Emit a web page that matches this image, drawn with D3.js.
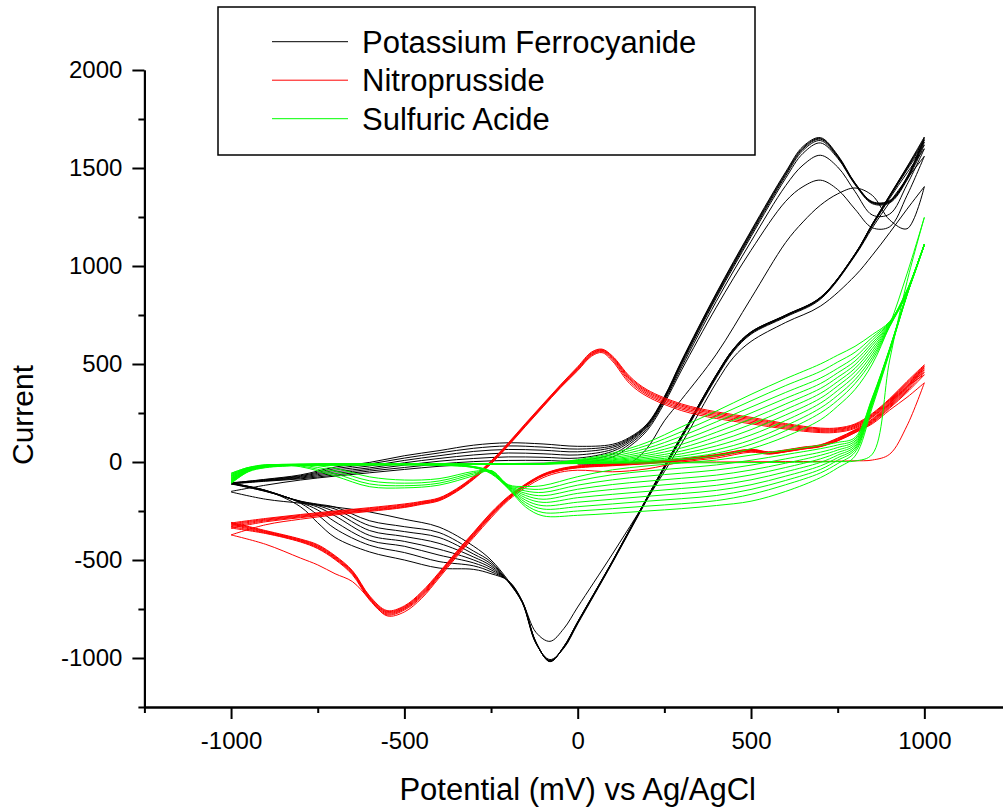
<!DOCTYPE html>
<html>
<head>
<meta charset="utf-8">
<script src="https://cdn.jsdelivr.net/npm/d3@7"></script>
<style>
  body { margin: 0; background: #fff; }
  svg { display: block; }
  text { font-family: "Liberation Sans", Arial, sans-serif; fill: #000; }
</style>
</head>
<body>
<svg width="1003" height="809"></svg>
<script>
// axis ticks
const xMajor = [-1000, -500, 0, 500, 1000];
const xMinor = [-1250, -750, -250, 250, 750, 1250];
const yMajor = [-1000, -500, 0, 500, 1000, 1500, 2000];
const yMinor = [-1250, -750, -250, 250, 750, 1250, 1750];

const seriesNames = ['Potassium Ferrocyanide', 'Nitroprusside', 'Sulfuric Acide'];

// ---- Potassium Ferrocyanide: rows = potential, columns = cycle 1..8 ----
// cycle 1 starts at 0 mV
const blackFwdE = [-1000, -900, -800, -700, -600, -500, -400, -300, -200, -100, 0, 100, 150, 200, 250, 300, 400, 500, 600, 650, 700, 750, 800, 850, 900, 950, 1000];
const blackFwdI = [
  [null, -150, -112, -110, -108, -110, -106, -108],
  [null, -118, -98, -96, -94, -92, -90, -88],
  [null, -92, -86, -82, -78, -74, -70, -66],
  [null, -72, -66, -58, -50, -42, -34, -26],
  [null, -55, -46, -38, -30, -20, -10, -2],
  [null, -38, -28, -16, -4, 8, 20, 32],
  [null, -22, -10, 4, 18, 32, 46, 58],
  [null, -12, 2, 18, 36, 54, 70, 86],
  [null, -8, 8, 26, 46, 64, 82, 98],
  [null, -6, 8, 24, 42, 60, 76, 92],
  [-10, -4, 6, 20, 36, 52, 66, 80],
  [-12, 25, 40, 54, 64, 74, 82, 90],
  [-5, 80, 92, 102, 110, 116, 121, 126],
  [70, 160, 170, 178, 183, 187, 190, 194],
  [210, 300, 310, 318, 323, 327, 330, 334],
  [320, 470, 485, 497, 505, 510, 515, 518],
  [550, 790, 820, 838, 846, 852, 858, 862],
  [835, 1080, 1125, 1150, 1160, 1168, 1174, 1180],
  [1120, 1330, 1410, 1448, 1460, 1468, 1474, 1480],
  [1225, 1405, 1515, 1575, 1590, 1598, 1604, 1610],
  [1310, 1438, 1565, 1628, 1640, 1647, 1651, 1655],
  [1368, 1390, 1505, 1550, 1555, 1559, 1562, 1566],
  [1398, 1290, 1380, 1415, 1418, 1420, 1422, 1424],
  [1360, 1195, 1260, 1318, 1322, 1324, 1326, 1328],
  [1235, 1200, 1265, 1322, 1326, 1329, 1331, 1334],
  [1190, 1360, 1415, 1438, 1444, 1448, 1451, 1454],
  [1405, 1560, 1598, 1618, 1632, 1642, 1650, 1658]
];
const blackRevE = [1000, 950, 900, 850, 800, 700, 600, 500, 450, 400, 300, 200, 100, 0, -40, -80, -120, -160, -200, -250, -300, -400, -500, -600, -700, -750, -800, -900, -1000];
const blackRevI = [
  [1405, 1560, 1598, 1618, 1632, 1642, 1650, 1658],
  [1290, 1445, 1475, 1490, 1496, 1500, 1503, 1506],
  [1170, 1325, 1345, 1352, 1355, 1357, 1359, 1361],
  [1055, 1195, 1205, 1210, 1212, 1213, 1214, 1215],
  [950, 1052, 1056, 1058, 1059, 1060, 1061, 1062],
  [795, 830, 834, 836, 837, 838, 839, 840],
  [712, 740, 744, 746, 747, 748, 749, 750],
  [615, 652, 656, 659, 661, 662, 663, 664],
  [535, 565, 570, 574, 576, 577, 578, 579],
  [405, 430, 436, 440, 442, 444, 445, 446],
  [95, 122, 127, 130, 132, 134, 135, 136],
  [-190, -192, -188, -186, -184, -183, -182, -181],
  [-470, -515, -512, -510, -509, -508, -507, -506],
  [-740, -826, -822, -820, -818, -817, -816, -815],
  [-850, -950, -947, -945, -944, -943, -942, -941],
  [-915, -1008, -1012, -1015, -1016, -1017, -1018, -1019],
  [-870, -928, -926, -924, -923, -922, -921, -920],
  [-712, -718, -716, -714, -713, -712, -711, -710],
  [-605, -612, -611, -610, -609, -608, -607, -606],
  [-500, -510, -520, -530, -540, -550, -560, -570],
  [-430, -455, -470, -485, -500, -515, -530, -548],
  [-332, -360, -385, -415, -445, -475, -508, -541],
  [-292, -330, -355, -380, -405, -430, -462, -500],
  [-255, -300, -325, -350, -375, -400, -425, -459],
  [-230, -230, -240, -255, -275, -305, -340, -385],
  [-220, -215, -218, -222, -230, -245, -270, -310],
  [-210, -200, -200, -202, -204, -206, -210, -228],
  [-190, -150, -150, -148, -146, -146, -145, -145],
  [-153, -112, -110, -108, -110, -106, -108, -110]
];

// ---- Nitroprusside: columns = cycle 1..7 ----
const redFwdE = [-1000, -900, -800, -700, -600, -500, -450, -400, -350, -300, -250, -200, -150, -100, -50, 0, 40, 70, 100, 150, 200, 300, 400, 500, 600, 700, 750, 800, 850, 900, 950, 1000];
const redFwdI = [
  [null, -372, -337, -330, -322, -316, -311],
  [null, -320, -305, -300, -296, -292, -288],
  [null, -292, -284, -280, -276, -272, -268],
  [null, -270, -265, -262, -258, -254, -250],
  [null, -252, -248, -245, -241, -237, -233],
  [null, -232, -229, -226, -222, -218, -214],
  [null, -216, -213, -210, -207, -204, -201],
  [null, -198, -195, -192, -189, -186, -183],
  [null, -152, -149, -146, -143, -140, -137],
  [null, -88, -85, -82, -79, -76, -73],
  [null, -10, -7, -4, -1, 2, 5],
  [null, 83, 86, 89, 92, 95, 98],
  [null, 183, 186, 189, 192, 195, 198],
  [null, 281, 284, 287, 290, 293, 296],
  [null, 378, 381, 384, 387, 390, 393],
  [-10, 466, 470, 474, 478, 482, 486],
  [-8, 540, 545, 549, 553, 557, 561],
  [-6, 558, 563, 567, 570, 573, 576],
  [-5, 515, 522, 528, 533, 537, 541],
  [-3, 400, 410, 418, 425, 431, 437],
  [-2, 335, 343, 350, 357, 363, 369],
  [0, 262, 270, 277, 284, 290, 296],
  [0, 222, 230, 237, 244, 250, 256],
  [1, 195, 202, 209, 216, 222, 228],
  [2, 168, 174, 180, 186, 191, 196],
  [3, 150, 155, 160, 165, 169, 173],
  [4, 152, 157, 162, 166, 170, 174],
  [6, 172, 177, 182, 186, 190, 194],
  [10, 228, 232, 236, 240, 244, 248],
  [40, 300, 305, 310, 315, 319, 323],
  [185, 385, 390, 396, 401, 406, 411],
  [404, 445, 458, 470, 480, 488, 496]
];
const redRevE = [1000, 950, 900, 850, 800, 750, 700, 650, 600, 550, 500, 400, 300, 200, 100, 0, -50, -100, -150, -200, -250, -300, -350, -400, -450, -500, -550, -600, -650, -700, -750, -800, -900, -1000];
const redRevI = [
  [404, 445, 458, 470, 480, 488, 496],
  [330, 355, 362, 368, 374, 379, 384],
  [265, 275, 280, 285, 290, 294, 298],
  [195, 200, 204, 208, 212, 216, 220],
  [150, 150, 153, 156, 159, 162, 165],
  [108, 108, 111, 114, 117, 120, 122],
  [80, 78, 80, 82, 84, 86, 88],
  [66, 66, 68, 70, 72, 74, 76],
  [52, 52, 54, 56, 58, 60, 62],
  [40, 42, 44, 46, 48, 50, 52],
  [50, 55, 57, 59, 61, 63, 65],
  [20, 28, 30, 32, 34, 36, 38],
  [0, 6, 8, 10, 12, 14, 16],
  [-35, -9, -7, -5, -3, -1, 1],
  [-50, -19, -17, -15, -13, -11, -9],
  [-42, -30, -28, -26, -24, -22, -20],
  [-52, -44, -42, -40, -38, -36, -34],
  [-80, -72, -70, -68, -66, -64, -62],
  [-130, -122, -120, -118, -116, -114, -112],
  [-195, -190, -187, -184, -181, -178, -175],
  [-285, -278, -274, -270, -266, -262, -258],
  [-385, -378, -374, -370, -366, -362, -358],
  [-485, -478, -474, -470, -466, -462, -458],
  [-592, -585, -580, -576, -572, -568, -564],
  [-695, -688, -682, -677, -672, -667, -662],
  [-765, -755, -750, -746, -742, -738, -734],
  [-785, -780, -775, -770, -766, -762, -758],
  [-700, -705, -700, -696, -692, -688, -684],
  [-610, -575, -570, -566, -562, -558, -554],
  [-570, -498, -494, -490, -486, -482, -478],
  [-525, -442, -438, -434, -430, -426, -422],
  [-490, -408, -405, -402, -399, -396, -393],
  [-420, -365, -362, -359, -356, -353, -350],
  [-372, -337, -330, -322, -316, -311, -308]
];

// ---- Sulfuric Acide: columns = cycle 1..11 ----
const greenFwdE = [-1000, -950, -900, -800, -700, -600, -500, -400, -300, -250, -200, -150, -100, 0, 100, 200, 300, 400, 500, 600, 700, 750, 800, 850, 900, 950, 1000];
const greenFwdI = [
  [null, -58, -64, -70, -75, -81, -86, -91, -96, -101, -106],
  [null, -28, -31, -33, -36, -38, -41, -43, -45, -47, -50],
  [null, -14, -15, -16, -18, -19, -21, -23, -25, -27, -29],
  [null, -24, -20, -16, -12, -11, -12, -14, -15, -16, -18],
  [null, -72, -60, -46, -32, -9, -10, -11, -12, -13, -14],
  [null, -126, -112, -96, -76, -9, -10, -11, -12, -13, -14],
  [null, -132, -121, -108, -92, -10, -11, -12, -13, -14, -15],
  [null, -118, -108, -97, -85, -12, -13, -14, -15, -16, -17],
  [null, -70, -62, -55, -48, -23, -24, -25, -26, -28, -29],
  [null, -44, -44, -45, -46, -48, -50, -53, -55, -57, -60],
  [null, -116, -118, -121, -123, -125, -127, -130, -132, -134, -137],
  [null, -125, -136, -148, -160, -171, -183, -195, -207, -219, -230],
  [null, -120, -138, -155, -172, -190, -206, -223, -240, -258, -275],
  [-8, -75, -96, -118, -139, -160, -182, -205, -228, -250, -272],
  [-6, -40, -65, -91, -115, -140, -165, -190, -214, -238, -262],
  [-5, -20, -46, -72, -98, -124, -150, -175, -200, -225, -250],
  [-4, -5, -31, -57, -83, -109, -135, -161, -187, -213, -238],
  [-4, 10, -15, -41, -67, -93, -119, -145, -171, -197, -222],
  [-3, 35, 9, -16, -41, -66, -91, -116, -140, -165, -200],
  [-2, 60, 38, 16, -6, -28, -50, -72, -94, -116, -150],
  [0, 85, 68, 50, 34, 16, -2, -20, -38, -56, -80],
  [2, 100, 87, 74, 61, 48, 35, 22, 9, -8, -30],
  [5, 125, 116, 107, 98, 89, 80, 71, 62, 50, 30],
  [40, 330, 326, 322, 318, 314, 310, 305, 300, 292, 280],
  [520, 580, 578, 576, 575, 573, 571, 569, 567, 564, 560],
  [920, 860, 859, 858, 857, 856, 855, 854, 853, 852, 850],
  [1248, 1108, 1110, 1112, 1110, 1108, 1110, 1112, 1110, 1108, 1110]
];
const greenRevE = [1000, 950, 900, 850, 800, 750, 700, 600, 500, 400, 300, 200, 100, 0, -100, -200, -300, -400, -500, -600, -700, -800, -900, -950, -1000];
const greenRevI = [
  [1248, 1108, 1110, 1112, 1110, 1108, 1110, 1112, 1110, 1108, 1110],
  [960, 860, 862, 864, 866, 868, 870, 872, 874, 876, 878],
  [700, 690, 693, 696, 699, 702, 705, 708, 711, 714, 717],
  [500, 520, 535, 550, 565, 580, 595, 608, 622, 636, 650],
  [370, 400, 420, 440, 460, 478, 496, 515, 535, 560, 590],
  [285, 315, 340, 365, 388, 410, 432, 455, 478, 510, 545],
  [215, 250, 275, 300, 325, 350, 375, 400, 428, 462, 500],
  [130, 160, 185, 212, 240, 268, 296, 325, 355, 390, 425],
  [68, 90, 112, 138, 165, 192, 220, 250, 280, 312, 345],
  [32, 45, 62, 82, 104, 128, 152, 178, 205, 232, 260],
  [12, 20, 30, 42, 56, 72, 90, 110, 132, 155, 180],
  [2, 5, 10, 17, 25, 34, 44, 56, 70, 85, 100],
  [-4, -2, 0, 3, 7, 11, 16, 22, 29, 37, 45],
  [-8, -6, -5, -3, -2, 0, 2, 4, 6, 9, 12],
  [-10, -10, -10, -10, -10, -9, -9, -9, -8, -8, -8],
  [-12, -12, -12, -12, -12, -11, -11, -11, -10, -10, -10],
  [-12, -12, -12, -12, -12, -11, -11, -11, -10, -10, -10],
  [-13, -13, -13, -12, -12, -11, -11, -11, -10, -10, -10],
  [-13, -13, -13, -13, -13, -12, -12, -11, -11, -10, -10],
  [-14, -14, -14, -14, -13, -13, -12, -12, -11, -11, -10],
  [-15, -15, -15, -15, -14, -14, -13, -12, -12, -11, -11],
  [-16, -17, -17, -17, -16, -16, -15, -14, -13, -12, -12],
  [-20, -22, -22, -22, -22, -21, -21, -20, -20, -20, -20],
  [-28, -30, -32, -34, -36, -38, -40, -42, -44, -46, -48],
  [-58, -64, -70, -75, -81, -86, -91, -96, -101, -106, -110]
];

const svg = d3.select('svg');

const x = d3.scaleLinear().domain([-1250, 1250]).range([144.4, 1011]);
const y = d3.scaleLinear().domain([-1250, 2000]).range([707, 70]);

const line = d3.line()
  .defined(d => d[1] != null)
  .x(d => x(d[0]))
  .y(d => y(d[1]))
  .curve(d3.curveCatmullRom.alpha(0.5));

// one path per sweep, forward and reverse
function drawSeries(fwdE, fwdI, revE, revI, color) {
  const fwd = d3.transpose(fwdI);
  const rev = d3.transpose(revI);
  const g = svg.append('g')
    .attr('fill', 'none')
    .attr('stroke', color)
    .attr('stroke-width', 1);
  fwd.forEach((cyc, i) => {
    g.append('path').attr('d', line(cyc.map((v, j) => [fwdE[j], v])));
    g.append('path').attr('d', line(rev[i].map((v, j) => [revE[j], v])));
  });
}

drawSeries(blackFwdE, blackFwdI, blackRevE, blackRevI, '#000000');
drawSeries(redFwdE, redFwdI, redRevE, redRevI, '#ff0000');
drawSeries(greenFwdE, greenFwdI, greenRevE, greenRevI, '#00ff00');

// axes
function styleAxis(g) {
  g.select('.domain').attr('stroke', '#000').attr('stroke-width', 2);
  g.selectAll('.tick line').attr('stroke', '#000').attr('stroke-width', 2);
  g.selectAll('text')
    .attr('font-size', 24)
    .attr('font-family', '"Liberation Sans", Arial, sans-serif')
    .attr('fill', '#000');
}

svg.append('g')
  .attr('transform', `translate(0,${y(-1250)})`)
  .call(d3.axisBottom(x).tickValues(xMinor).tickSize(6).tickSizeOuter(0).tickFormat(''))
  .call(styleAxis);
svg.append('g')
  .attr('transform', `translate(0,${y(-1250)})`)
  .call(d3.axisBottom(x).tickValues(xMajor).tickSize(12).tickSizeOuter(0).tickPadding(13).tickFormat(d => String(d)))
  .call(styleAxis);

svg.append('g')
  .attr('transform', `translate(${x(-1250)},0)`)
  .call(d3.axisLeft(y).tickValues(yMinor).tickSize(6).tickSizeOuter(0).tickFormat(''))
  .call(styleAxis);
svg.append('g')
  .attr('transform', `translate(${x(-1250)},0)`)
  .call(d3.axisLeft(y).tickValues(yMajor).tickSize(12).tickSizeOuter(0).tickPadding(10).tickFormat(d => String(d)))
  .call(styleAxis);

// axis titles
svg.append('text')
  .attr('x', x(0))
  .attr('y', 800)
  .attr('text-anchor', 'middle')
  .attr('font-size', 31)
  .text('Potential (mV) vs Ag/AgCl');

svg.append('text')
  .attr('transform', 'translate(33,415) rotate(-90)')
  .attr('text-anchor', 'middle')
  .attr('font-size', 30)
  .text('Current');

// legend
const legend = svg.append('g');
legend.append('rect')
  .attr('x', 218).attr('y', 7)
  .attr('width', 537).attr('height', 148)
  .attr('fill', '#fff')
  .attr('stroke', '#000')
  .attr('stroke-width', 1.5);

const legendColors = ['#000000', '#ff0000', '#00ff00'];
seriesNames.forEach((name, i) => {
  const ly = 41.7 + i * 38.5;
  legend.append('line')
    .attr('x1', 272).attr('x2', 348)
    .attr('y1', ly).attr('y2', ly)
    .attr('stroke', legendColors[i])
    .attr('stroke-width', 1);
  legend.append('text')
    .attr('x', 362)
    .attr('y', ly + 11)
    .attr('font-size', 31)
    .text(name);
});
</script>
</body>
</html>
